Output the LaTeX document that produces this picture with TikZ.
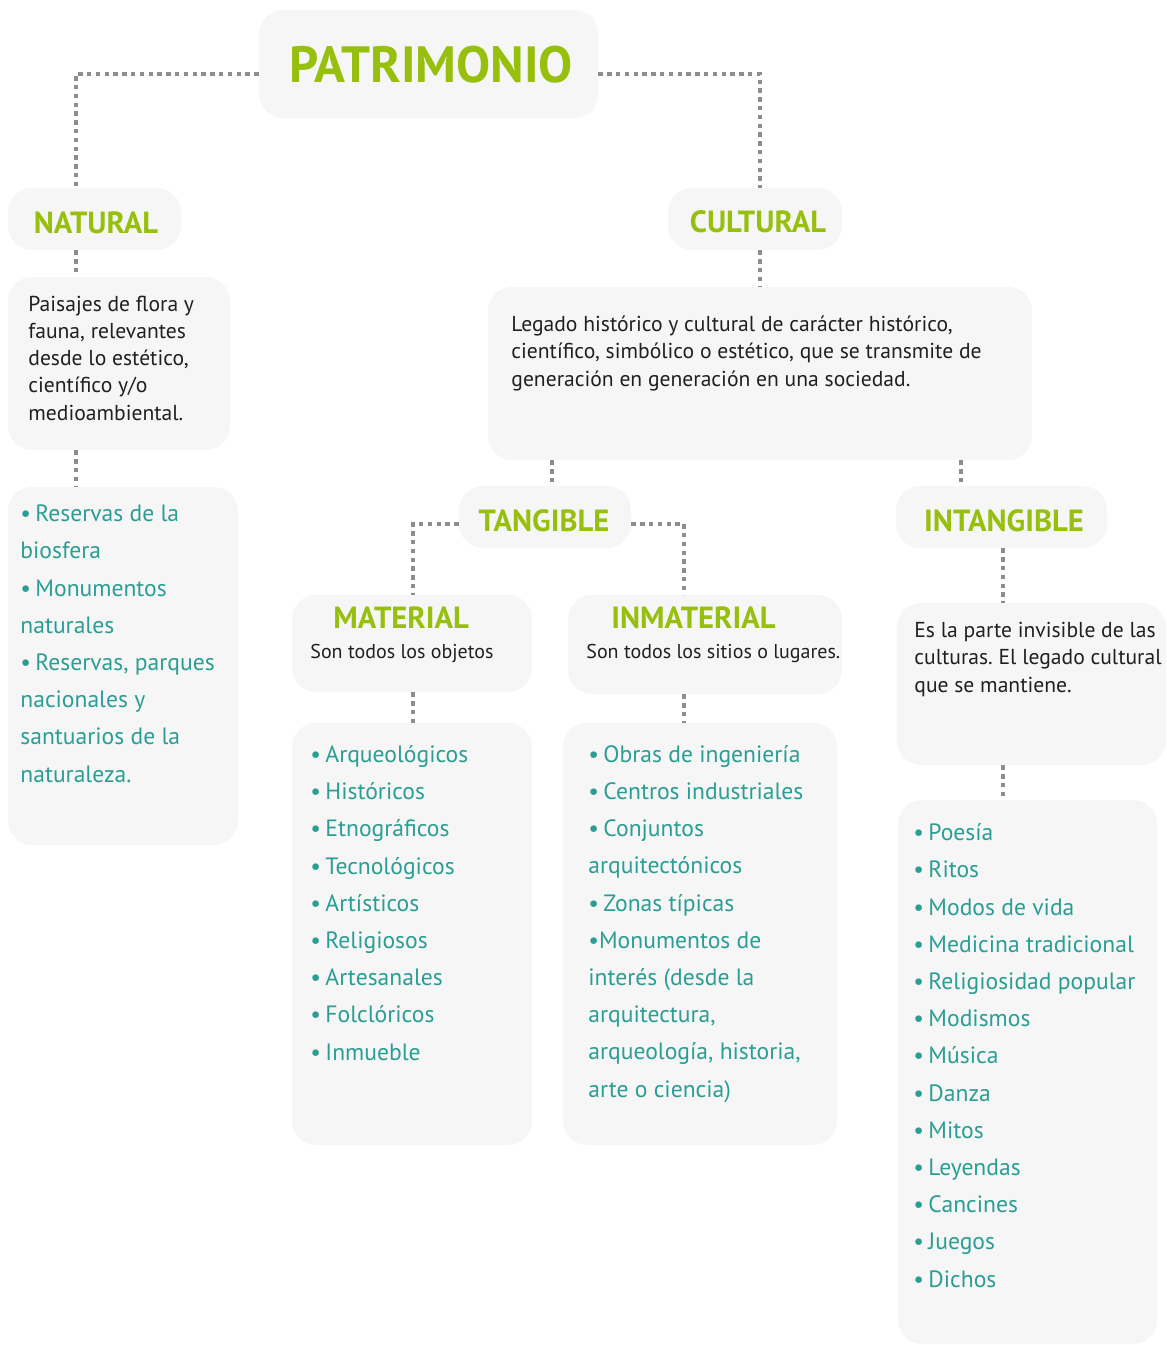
\documentclass[tikz,border=0pt]{standalone}
\usepackage{fontspec}
\setmainfont{PT Sans}
\usetikzlibrary{fit}
\frenchspacing
\definecolor{verde}{RGB}{151,191,13}
\definecolor{turquesa}{RGB}{42,158,148}
\definecolor{fondo}{RGB}{246,246,246}
\definecolor{punto}{RGB}{140,140,145}
\definecolor{texto}{RGB}{35,31,32}
\newcommand\bul{•\kern2.2pt}
\tikzset{caja/.style={fill=fondo, rounded corners=12pt, inner sep=0pt}, titulo/.style={text=verde, inner sep=0pt, anchor=base, font=\bfseries\fontsize{15.3}{17}\selectfont}, desc/.style={text=texto, align=left, inner sep=0pt, anchor=base west, font=\fontsize{10.8}{13.6}\selectfont}, lista/.style={text=turquesa, align=left, inner sep=0pt, anchor=base west, font=\fontsize{11.8}{18.6}\selectfont}, punteado/.style={draw=punto, line width=2.1pt, dash pattern=on 2.2pt off 2.2pt}}

\begin{document}
\begin{tikzpicture}[x=0.5pt,y=-0.5pt]
\useasboundingbox (0,0) rectangle (1167,1345);
%cajas
\node[caja, fit={(259,10) (598,118)}] (patrimonio) {};
\node[caja, fit={(8,188) (181,250)}] (natural) {};
\node[caja, fit={(8,277) (230,450)}] (descnat) {};
\node[caja, fit={(8,487) (238,845)}] (listanat) {};
\node[caja, fit={(668,188) (842,250)}] (cultural) {};
\node[caja, fit={(488,287) (1032,460)}] (desccul) {};
\node[caja, fit={(459,486) (631,548)}] (tangible) {};
\node[caja, fit={(896,486) (1107,548)}] (intangible) {};
\node[caja, fit={(292,595) (532,692)}] (material) {};
\node[caja, fit={(568,595) (842,694)}] (inmaterial) {};
\node[caja, fit={(897,603) (1166,765)}] (descint) {};
\node[caja, fit={(292,723) (532,1145)}] (listamat) {};
\node[caja, fit={(563,723) (837,1145)}] (listainm) {};
\node[caja, fit={(898,800) (1157,1344)}] (listaint) {};
%titulos
\node[titulo, font=\bfseries\fontsize{25.5}{28}\selectfont] (tpat) at (431,82) {PATRIMONIO};
\node[titulo] (tnatural) at (96,233) {NATURAL};
\node[titulo] (tcultural) at (758,232) {CULTURAL};
\node[titulo] (ttangible) at (544,531) {TANGIBLE};
\node[titulo] (tintangible) at (1004,531) {INTANGIBLE};
\node[titulo, anchor=base west] (tmat) at (333,628) {MATERIAL};
\node[titulo, anchor=base west] (tinm) at (611,628) {INMATERIAL};
%textos (base = ultima linea)
\node[desc] (tnat) at (28,420) {Paisajes de flora y\\fauna, relevantes\\desde lo estético,\\científico y/o\\medioambiental.};
\node[lista] (tlnat) at (20,782) {\bul Reservas de la\\biosfera\\\bul Monumentos\\naturales\\\bul Reservas, parques\\nacionales y\\santuarios de la\\naturaleza.};
\node[desc] (tcul) at (511,386) {Legado histórico y cultural de carácter histórico,\\científico, simbólico o estético, que se transmite de\\generación en generación en una sociedad.};
\node[desc, font=\fontsize{10}{12}\selectfont] (smat) at (310,658) {Son todos los objetos};
\node[desc, font=\fontsize{10}{12}\selectfont] (sinm) at (586,658) {Son todos los sitios o lugares.};
\node[desc] (tint) at (914,692) {Es la parte invisible de las\\culturas. El legado cultural\\que se mantiene.};
\node[lista] (tlmat) at (310,1060) {\bul Arqueológicos\\\bul Históricos\\\bul Etnográficos\\\bul Tecnológicos\\\bul Artísticos\\\bul Religiosos\\\bul Artesanales\\\bul Folclóricos\\\bul Inmueble};
\node[lista] (tlinm) at (588,1097) {\bul Obras de ingeniería\\\bul Centros industriales\\\bul Conjuntos\\arquitectónicos\\\bul Zonas típicas\\•Monumentos de\\interés (desde la\\arquitectura,\\arqueología, historia,\\arte o ciencia)};
\node[lista] (tlint) at (913,1287) {\bul Poesía\\\bul Ritos\\\bul Modos de vida\\\bul Medicina tradicional\\\bul Religiosidad popular\\\bul Modismos\\\bul Música\\\bul Danza\\\bul Mitos\\\bul Leyendas\\\bul Cancines\\\bul Juegos\\\bul Dichos};
%conectores
\coordinate (colnat) at (76,0);
\coordinate (colcul) at (760,0);
\coordinate (coltan) at (552,0);
\coordinate (colint) at (961,0);
\coordinate (colmat) at (413,0);
\coordinate (colinm) at (684,0);
\coordinate (colintg) at (1003,0);
\draw[punteado] ([yshift=-5pt]patrimonio.west) -| (colnat |- natural.north);
\draw[punteado] ([yshift=-5pt]patrimonio.east) -| (colcul |- cultural.north);
\draw[punteado] ([yshift=-3.5pt]tangible.west) -| (colmat |- material.north);
\draw[punteado] ([yshift=-3.5pt]tangible.east) -| (colinm |- inmaterial.north);
\foreach \col/\de/\a in {colnat/natural/descnat, colnat/descnat/listanat, colcul/cultural/desccul, coltan/desccul/tangible, colint/desccul/intangible, colmat/material/listamat, colinm/inmaterial/listainm, colintg/intangible/descint, colintg/descint/listaint}
  \draw[punteado] (\col |- \de.south) -- (\col |- \a.north);
\end{tikzpicture}
\end{document}
